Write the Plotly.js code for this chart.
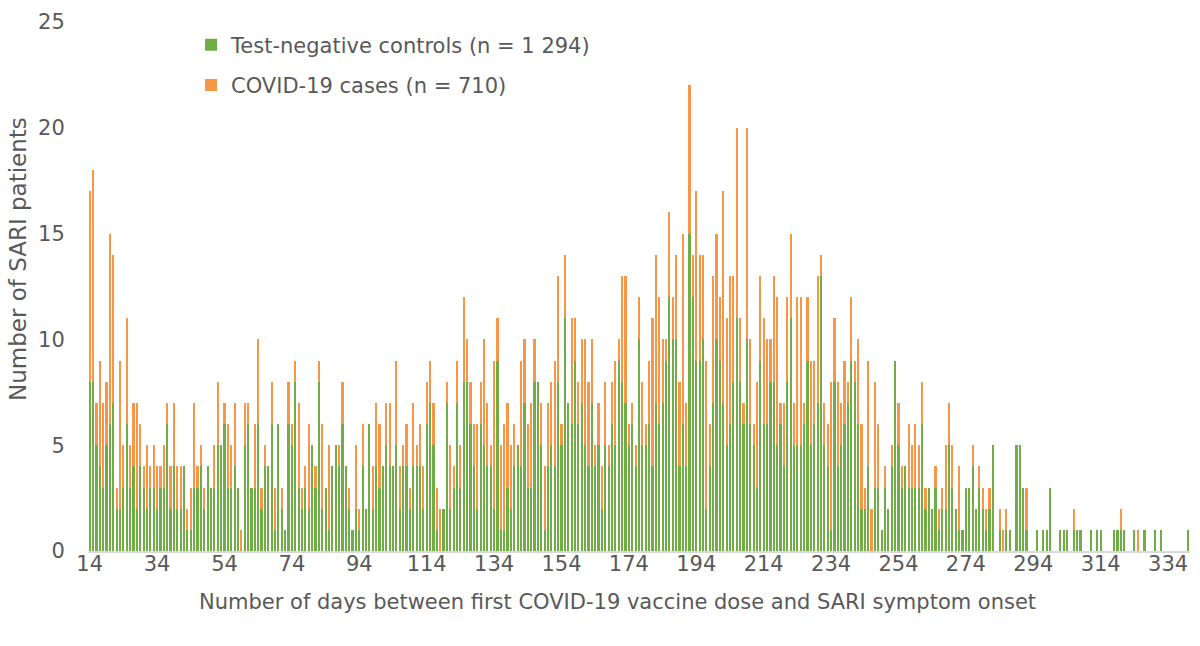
<!DOCTYPE html>
<html>
<head>
<meta charset="utf-8">
<script src="https://cdn.plot.ly/plotly-3.0.1.min.js"></script>
<style>html,body{margin:0;padding:0;background:#fff;}#chart{width:1200px;height:646px;}</style>
</head>
<body>
<div id="chart"></div>
<script>
const days = [14,15,16,17,18,19,20,21,22,23,24,25,26,27,28,29,30,31,32,33,34,35,36,37,38,39,40,41,42,43,44,45,46,47,48,49,50,51,52,53,54,55,56,57,58,59,60,61,62,63,64,65,66,67,68,69,70,71,72,73,74,75,76,77,78,79,80,81,82,83,84,85,86,87,88,89,90,91,92,93,94,95,96,97,98,99,100,101,102,103,104,105,106,107,108,109,110,111,112,113,114,115,116,117,118,119,120,121,122,123,124,125,126,127,128,129,130,131,132,133,134,135,136,137,138,139,140,141,142,143,144,145,146,147,148,149,150,151,152,153,154,155,156,157,158,159,160,161,162,163,164,165,166,167,168,169,170,171,172,173,174,175,176,177,178,179,180,181,182,183,184,185,186,187,188,189,190,191,192,193,194,195,196,197,198,199,200,201,202,203,204,205,206,207,208,209,210,211,212,213,214,215,216,217,218,219,220,221,222,223,224,225,226,227,228,229,230,231,232,233,234,235,236,237,238,239,240,241,242,243,244,245,246,247,248,249,250,251,252,253,254,255,256,257,258,259,260,261,262,263,264,265,266,267,268,269,270,271,272,273,274,275,276,277,278,279,280,281,282,283,284,285,286,287,288,289,290,291,292,293,294,295,296,297,298,299,300,301,302,303,304,305,306,307,308,309,310,311,312,313,314,315,316,317,318,319,320,321,322,323,324,325,326,327,328,329,330,331,332,333,334,335,336,337,338,339,340];

// Test-negative controls (green), days 14..340
const controls = [
8,8,5,4,3,5,6,7,2,2,3,6,3,4,2,4,3,2,3,3,2,3,3,6,2,4,2,2,4,   // 14-42
1,1,3,3,4,2,4,3,3,5,5,6,3,3,4,3,0,5,6,3,3,6,2,4,4,6,1,6,2,1, // 43-72
6,5,8,3,2,3,2,5,3,8,2,3,1,4,5,4,6,4,2,1,2,1,4,2,6,2,4,3,4,   // 73-101
5,4,4,5,2,4,4,2,4,4,4,2,6,7,5,1,0,2,7,2,3,7,3,8,8,6,4,2,6,5, // 102-131
4,4,2,9,1,1,3,2,4,5,4,7,3,3,8,8,5,1,4,5,4,8,5,11,7,6,9,6,7,5, // 132-161
4,7,4,5,2,5,4,6,5,9,8,7,5,6,4,10,5,5,6,4,7,6,7,9,12,10,10,4,6,4, // 162-191
15,12,9,9,10,2,4,7,10,9,7,5,6,8,11,8,6,10,6,5,3,9,6,6,8,8,5,6,4, // 192-220
8,11,5,5,5,6,9,5,6,7,13,5,4,1,8,4,5,6,7,9,8,6,2,2,4,0,3,3,1,3, // 221-250
2,4,9,5,3,4,3,3,3,3,6,2,3,2,3,1,2,2,5,3,2,1,1,3,3,4,2,3,2,1, // 251-280
2,5,0,1,0,1,1,0,5,5,3,1,0,0,1,0,1,1,3,0,0,1,1,1,0,1,1,1,0,0, // 281-310
1,0,1,1,0,0,0,1,1,1,1,0,0,1,0,0,1,0,0,1,0,1,0,0,0,0,0,0,0,1  // 311-340
];

// COVID-19 cases (orange), days 14..340
const cases = [
9,10,2,5,4,3,9,7,1,7,2,5,2,3,5,2,1,3,1,2,2,1,2,1,2,3,2,2,0,   // 14-42
1,2,4,1,1,1,0,0,2,3,0,1,3,2,3,0,1,2,1,0,3,4,1,1,0,2,2,0,1,0, // 43-72
2,1,1,4,1,1,4,0,1,1,4,0,4,0,0,1,2,0,1,0,3,1,2,0,0,2,3,3,0,   // 73-101
2,3,0,4,2,1,2,1,3,1,2,2,2,2,2,2,2,0,1,3,1,2,2,4,2,2,2,4,2,5, // 102-131
3,1,7,2,4,5,4,3,2,0,5,3,3,4,2,0,2,3,3,3,5,5,1,3,0,5,2,2,3,5, // 132-161
4,3,1,2,2,3,1,2,4,1,5,6,1,1,1,2,3,1,3,7,7,6,3,1,4,2,4,4,9,3, // 162-191
7,2,8,5,4,7,2,6,5,3,10,6,7,5,9,3,1,10,4,1,5,4,5,4,2,5,7,1,3, // 192-220
4,4,2,7,7,1,3,4,3,6,1,2,2,7,3,4,2,3,1,3,1,4,4,1,5,2,5,3,0,1, // 221-250
0,1,0,2,1,0,3,2,3,2,2,1,0,0,1,1,1,3,2,2,0,3,0,0,0,1,0,1,1,1, // 251-280
1,0,0,1,1,1,0,0,0,0,0,2,0,0,0,0,0,0,0,0,0,0,0,0,0,1,0,0,0,0, // 281-310
0,0,0,0,0,0,0,0,0,1,0,0,0,0,1,0,0,0,0,0,0,0,0,0,0,0,0,0,0,0  // 311-340
];

const xTicks = [14,34,54,74,94,114,134,154,174,194,214,234,254,274,294,314,334];
const yTicks = [0,5,10,15,20,25];

const FONT = 'DejaVu Sans, Verdana, sans-serif';
const TXT = '#595959';

const traces = [
  {type:'bar', x: days, y: controls, name:'Test-negative controls (n = 1 294)',
   marker:{color:'#70AD47', line:{width:0}}, legendgroup:'a', hoverinfo:'x+y'},
  {type:'bar', x: days, y: cases, name:'COVID-19 cases (n = 710)',
   marker:{color:'#F79646', line:{width:0}}, legendgroup:'b', hoverinfo:'x+y'}
];

const layout = {
  width:1200, height:646,
  margin:{l:88, r:10, t:22, b:95},
  paper_bgcolor:'#fff', plot_bgcolor:'#fff',
  barmode:'stack', bargap:0.36,
  font:{family:FONT, size:21, color:TXT},
  showlegend:true,
  legend:{x:0.0935, y:0.995, xanchor:'left', yanchor:'top', traceorder:'grouped',
          tracegroupgap:10, bgcolor:'rgba(0,0,0,0)', font:{family:FONT, size:21, color:TXT}},
  xaxis:{range:[13.5,340.5], tickmode:'array', tickvals:xTicks, ticktext:xTicks.map(String),
         showgrid:false, zeroline:false, showline:true, linecolor:'#D9D9D9', linewidth:1.5,
         ticks:'', ticklabelstandoff:-7, tickfont:{family:FONT, size:21, color:TXT}},
  yaxis:{range:[0,25], tickmode:'array', tickvals:yTicks, showgrid:false, zeroline:false,
         showline:false, ticks:'outside', ticklen:18, tickcolor:'rgba(0,0,0,0)',
         tickfont:{family:FONT, size:21, color:TXT}},
  annotations:[
    {text:'Number of days between first COVID-19 vaccine dose and SARI symptom onset',
     xref:'paper', yref:'paper', x:(617-88)/1102, y:-(602-551)/529, xanchor:'center', yanchor:'middle',
     showarrow:false, font:{family:FONT, size:21, color:TXT}},
    {text:'Number of SARI patients', textangle:-90,
     xref:'paper', yref:'paper', x:-(88-18)/1102, y:(551-259)/529, xanchor:'center', yanchor:'middle',
     showarrow:false, font:{family:FONT, size:23, color:TXT}}
  ]
};

Plotly.newPlot('chart', traces, layout, {displayModeBar:false, staticPlot:true});
</script>
</body>
</html>
